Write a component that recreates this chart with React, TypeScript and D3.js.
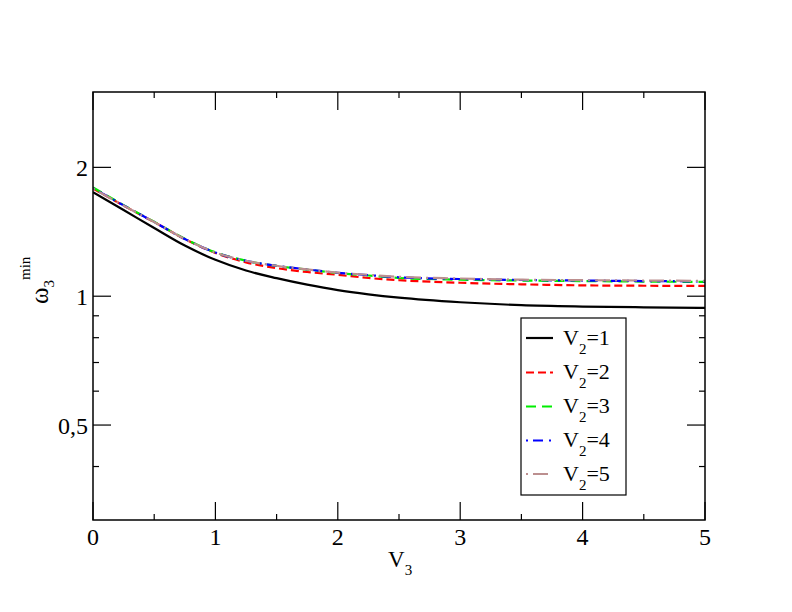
import React from "react";
import * as d3 from "d3";

const v3 = [0, 0.25, 0.5, 0.75, 1, 1.25, 1.5, 1.75, 2, 2.25, 2.5, 3, 3.5, 4, 4.5, 5];
const sV1 = [1.75, 1.59, 1.443, 1.313, 1.216, 1.148, 1.102, 1.064, 1.033, 1.01, 0.992, 0.968, 0.953, 0.946, 0.942, 0.939];
const sV2 = [1.785, 1.628, 1.49, 1.36, 1.262, 1.2, 1.163, 1.139, 1.122, 1.103, 1.09, 1.075, 1.066, 1.06, 1.058, 1.057];
const sV3 = [1.795, 1.632, 1.492, 1.362, 1.266, 1.21, 1.177, 1.154, 1.133, 1.118, 1.103, 1.093, 1.088, 1.085, 1.082, 1.08];
const sV4 = [1.788, 1.63, 1.49, 1.36, 1.265, 1.21, 1.178, 1.155, 1.134, 1.12, 1.107, 1.097, 1.091, 1.088, 1.085, 1.083];
const sV5 = [1.785, 1.628, 1.49, 1.36, 1.265, 1.21, 1.178, 1.155, 1.135, 1.122, 1.11, 1.1, 1.093, 1.09, 1.088, 1.086];

const seriesNames = ["1", "2", "3", "4", "5"];
const seriesValues = [sV1, sV2, sV3, sV4, sV5];
const seriesColors = ["#000000", "#ff0000", "#00ee00", "#0000ff", "#bc8f8f"];
const seriesDash = ["none", "8,4", "10,6", "2,5,10,6", "2,5,15,5"];

const xMajor = [0, 1, 2, 3, 4, 5];
const xMinor = [0.5, 1.5, 2.5, 3.5, 4.5];
const yMajor = [0.5, 1, 2];
const yMajorLabels = ["0,5", "1", "2"];
const yMinor = [0.4, 0.6, 0.7, 0.8, 0.9];

const W = 792, H = 612;
const L = 93, R = 705, T = 92, B = 520;
const FONT = '"Liberation Serif", "Times New Roman", serif';
const ts = { fontFamily: FONT };

export default function App() {
  const x = d3.scaleLinear().domain([0, 5]).range([L, R]);
  const y = d3.scaleLog().domain([0.3, 3]).range([B, T]);
  const line = d3
    .line<number>()
    .x((_, i) => x(v3[i]))
    .y((d) => y(d))
    .curve(d3.curveMonotoneX);

  const MAJ = 18, MIN = 6;
  const legendRows = [338, 372.5, 406.5, 440.5, 474];

  return (
    <svg width={W} height={H} style={{ position: "absolute", left: 0, top: 0, background: "#fff" }}>
      <rect x={0} y={0} width={W} height={H} fill="#fff" />
      <defs>
        <clipPath id="clip"><rect x={L} y={T} width={R - L} height={B - T} /></clipPath>
      </defs>
      <g clipPath="url(#clip)">
        {seriesValues.map((s, i) => (
          <path key={i} d={line(s) || ""} fill="none" stroke={seriesColors[i]} strokeWidth={2.2}
            strokeDasharray={seriesDash[i]} />
        ))}
      </g>
      {/* frame */}
      <rect x={L} y={T} width={R - L} height={B - T} fill="none" stroke="#000" strokeWidth={1.5} />
      {/* x ticks */}
      {xMajor.map((v) => (
        <g key={"xm" + v}>
          <line x1={x(v)} x2={x(v)} y1={B} y2={B - MAJ} stroke="#000" strokeWidth={1.2} />
          <line x1={x(v)} x2={x(v)} y1={T} y2={T + MAJ} stroke="#000" strokeWidth={1.2} />
          <text x={x(v)} y={545} textAnchor="middle" fontSize={24} style={ts}>{v}</text>
        </g>
      ))}
      {xMinor.map((v) => (
        <g key={"xn" + v}>
          <line x1={x(v)} x2={x(v)} y1={B} y2={B - MIN} stroke="#000" strokeWidth={1.2} />
          <line x1={x(v)} x2={x(v)} y1={T} y2={T + MIN} stroke="#000" strokeWidth={1.2} />
        </g>
      ))}
      {/* y ticks */}
      {yMajor.map((v, i) => (
        <g key={"ym" + v}>
          <line x1={L} x2={L + MAJ} y1={y(v)} y2={y(v)} stroke="#000" strokeWidth={1.2} />
          <line x1={R} x2={R - MAJ} y1={y(v)} y2={y(v)} stroke="#000" strokeWidth={1.2} />
          <text x={88} y={y(v) + 9} textAnchor="end" fontSize={24} style={ts}>{yMajorLabels[i]}</text>
        </g>
      ))}
      {yMinor.map((v) => (
        <g key={"yn" + v}>
          <line x1={L} x2={L + MIN} y1={y(v)} y2={y(v)} stroke="#000" strokeWidth={1.2} />
          <line x1={R} x2={R - MIN} y1={y(v)} y2={y(v)} stroke="#000" strokeWidth={1.2} />
        </g>
      ))}
      {/* axis labels */}
      <text x={388} y={567} fontSize={23} style={ts}>
        V<tspan dy={8} fontSize={15}>3</tspan>
      </text>
      <text transform="translate(48,304) rotate(-90)" fontSize={25} style={ts}>
        ω<tspan dy={6} fontSize={15}>3</tspan><tspan dy={-24} fontSize={15}>min</tspan>
      </text>
      {/* legend */}
      <rect x={521} y={318} width={105} height={177} fill="#fff" stroke="#000" strokeWidth={1.2} />
      {seriesNames.map((n, i) => (
        <g key={"lg" + i}>
          <line x1={526} x2={553} y1={legendRows[i]} y2={legendRows[i]} stroke={seriesColors[i]} strokeWidth={2.2}
            strokeDasharray={seriesDash[i]} />
          <text x={563} y={legendRows[i] + 6.5} fontSize={22} style={ts}>
            V<tspan dy={9} fontSize={15}>2</tspan><tspan dy={-9}>={n}</tspan>
          </text>
        </g>
      ))}
    </svg>
  );
}
